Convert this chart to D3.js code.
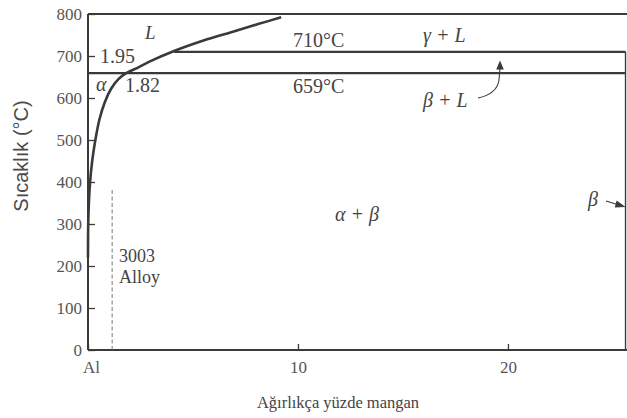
<!DOCTYPE html>
<html>
<head>
<meta charset="utf-8">
<script src="https://cdn.jsdelivr.net/npm/d3@7"></script>
<style>
  body { margin: 0; background: #fff; }
  text { font-family: "Liberation Serif", "Times New Roman", serif; fill: #444; }
</style>
</head>
<body>
<div id="chart"></div>
<script>
var width = 627;
var height = 418;
let ink = "#3a3a3a";

// tick values
let y_ticks = [0, 100, 200, 300, 400, 500, 600, 700, 800];
let x_ticks = [0, 10, 20];
let x_tick_labels = ["Al", "10", "20"];

// boundary curve (solvus + liquidus), wt% Mn vs °C
let curve_mn = [0, 0.02, 0.1, 0.2, 0.35, 0.55, 0.8, 1.1, 1.45, 1.82, 2.4, 2.9, 4.1, 5.5, 6.9, 8.1, 9.2];
let curve_t  = [220, 320, 400, 450, 500, 550, 590, 622, 645, 659, 673, 686, 712, 737, 758, 776, 792];

// isotherms
let iso_t     = [710, 659];
let iso_start = [4.1, 0];
let beta_mn = 25.6;   // beta phase boundary
let alloy_mn = 1.15;  // 3003 alloy
let alloy_tmax = 400;

var svg = d3.select("#chart").append("svg")
  .attr("width", width)
  .attr("height", height);

var x = d3.scaleLinear().domain([0, 25.67]).range([88, 627]);
var y = d3.scaleLinear().domain([0, 800]).range([350, 14]);

//----------------------AXES----------------------------
var y_axis = d3.axisLeft(y)
  .tickValues(y_ticks)
  .tickSizeInner(-7)
  .tickSizeOuter(0)
  .tickPadding(6)
  .tickFormat(d3.format("d"));

var g_y = svg.append("g")
  .attr("transform", "translate(" + x(0) + ",0)")
  .call(y_axis);
g_y.select(".domain").remove();
g_y.selectAll("line").style("stroke", ink).style("stroke-width", 1.3);
g_y.selectAll("text").attr("font-size", 17).style("fill", "#555");

var x_axis = d3.axisBottom(x)
  .tickValues(x_ticks)
  .tickSizeInner(-6)
  .tickSizeOuter(0)
  .tickPadding(11)
  .tickFormat(function(d, i) { return x_tick_labels[i]; });

var g_x = svg.append("g")
  .attr("transform", "translate(0," + y(0) + ")")
  .call(x_axis);
g_x.select(".domain").remove();
g_x.selectAll("line").style("stroke", ink).style("stroke-width", 1.3);
g_x.selectAll("text").attr("font-size", 17).style("fill", "#555");
g_x.selectAll("text").filter(function(d) { return d === 0; }).attr("dx", 3);

// frame: left, bottom, top
var frame = svg.append("g").style("stroke", ink).style("stroke-width", 2).style("fill", "none");
frame.append("line").attr("x1", x(0)).attr("y1", y(0)).attr("x2", x(0)).attr("y2", y(800));
frame.append("line").attr("x1", x(0)).attr("y1", y(0)).attr("x2", width).attr("y2", y(0));
frame.append("line").attr("x1", x(0)).attr("y1", y(800)).attr("x2", width).attr("y2", y(800));

// isotherms + beta boundary
for (let i = 0; i < iso_t.length; i++) {
  frame.append("line")
    .attr("x1", x(iso_start[i])).attr("y1", y(iso_t[i]))
    .attr("x2", x(beta_mn)).attr("y2", y(iso_t[i]))
    .style("stroke-width", 2.2);
}
frame.append("line")
  .attr("x1", x(beta_mn)).attr("y1", y(710))
  .attr("x2", x(beta_mn)).attr("y2", y(0))
  .style("stroke-width", 1.4);

// solvus / liquidus curve
var pts = curve_mn.map(function(d, i) { return [d, curve_t[i]]; });
var line = d3.line()
  .x(function(d) { return x(d[0]); })
  .y(function(d) { return y(d[1]); })
  .curve(d3.curveCatmullRom.alpha(0.5));
svg.append("path")
  .datum(pts)
  .attr("d", line)
  .style("fill", "none")
  .style("stroke", ink)
  .style("stroke-width", 2.6);

// 3003 alloy dashed line
svg.append("line")
  .attr("x1", x(alloy_mn)).attr("y1", y(0))
  .attr("x2", x(alloy_mn)).attr("y2", y(alloy_tmax) + 8)
  .style("stroke", "#777")
  .style("stroke-width", 1)
  .style("stroke-dasharray", "4,2.5");

//-------------------LABELS--------------------
function label(txt, px, py, size, italic) {
  return svg.append("text")
    .attr("x", px).attr("y", py)
    .attr("font-size", size)
    .attr("font-style", italic ? "italic" : "normal")
    .text(txt);
}

label("L", 145, 39, 19, true);
label("710°C", 293, 47, 20, false);
label("γ + L", 423, 42, 20, true);
label("1.95", 100, 63, 20, false);
label("α", 96, 91, 20, true);
label("1.82", 125, 92, 20, false);
label("659°C", 293, 93, 20, false);
label("β + L", 423, 107, 20, true);
label("α + β", 335, 221, 20, true);
label("β", 588, 206, 20, true);
label("3003", 119, 262, 18, false);
label("Alloy", 119, 283, 18, false);

// arrows
var arr = svg.append("g").style("stroke", ink).style("fill", "none").style("stroke-width", 1.1);
arr.append("path")
  .attr("d", "M478,98 Q497,94 499,80 L500,68");
arr.append("path")
  .attr("d", "M497,69 L500,62 L503,69Z")
  .style("fill", ink);
arr.append("line")
  .attr("x1", 606).attr("y1", 201)
  .attr("x2", 619).attr("y2", 205);
arr.append("path")
  .attr("d", "M617,201.5 L624,206.5 L615.5,207Z")
  .style("fill", ink);

// axis titles
svg.append("text")
  .attr("transform", "translate(28," + 156 + ") rotate(-90)")
  .attr("text-anchor", "middle")
  .attr("font-size", 20)
  .style("font-family", "'Liberation Sans', Arial, sans-serif")
  .style("fill", "#4a4a4a")
  .text("Sıcaklık (°C)");

svg.append("text")
  .attr("x", 338).attr("y", 408)
  .attr("text-anchor", "middle")
  .attr("font-size", 16.5)
  .text("Ağırlıkça yüzde mangan");
</script>
</body>
</html>
